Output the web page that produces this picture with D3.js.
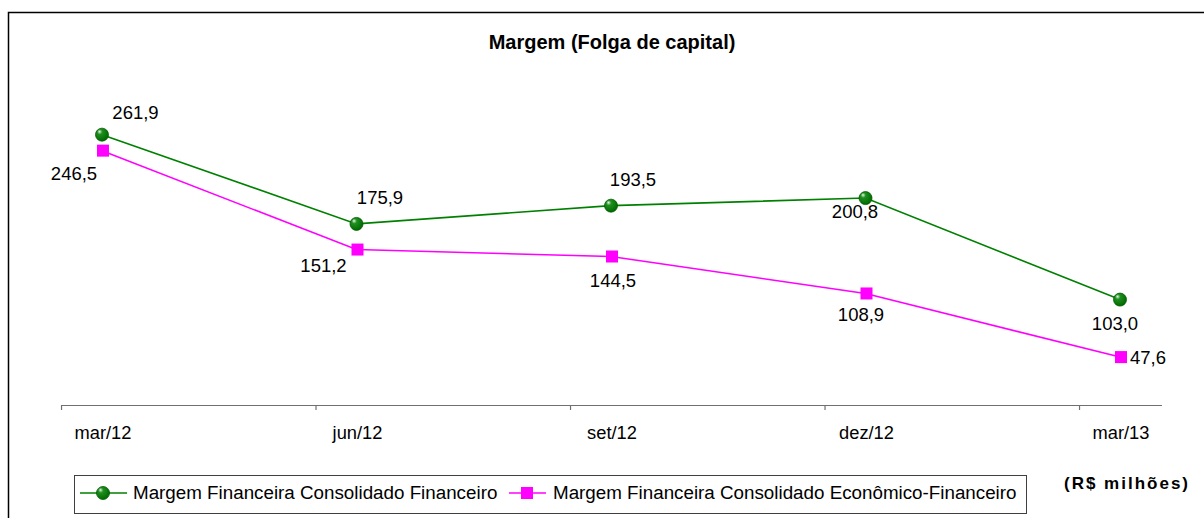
<!DOCTYPE html>
<html>
<head>
<meta charset="utf-8">
<script src="https://cdn.jsdelivr.net/npm/d3@7"></script>
<style>
  html, body { margin: 0; padding: 0; background: #fff; }
  svg { display: block; font-family: "Liberation Sans", Arial, sans-serif; }
</style>
</head>
<body>
<svg id="chart" width="1204" height="518"></svg>
<script>
// ---- data ----
const categories = ["mar/12", "jun/12", "set/12", "dez/12", "mar/13"];
const financeiro = [261.9, 175.9, 193.5, 200.8, 103.0];
const economicoFinanceiro = [246.5, 151.2, 144.5, 108.9, 47.6];
const seriesNames = [
  "Margem Financeira Consolidado Financeiro",
  "Margem Financeira Consolidado Econômico-Financeiro"
];
const title = "Margem (Folga de capital)";
const unitLabel = "(R$ milhões)";

// ---- label placement (layout only) ----
const greenLabelOffsets = [[33.5, -16], [23.5, -20], [22, -20], [-10.5, 20], [-5, 30]];
const pinkLabelOffsets = [[-28, 29], [-33, 22], [2, 30], [-4.5, 28], [28, 7]];

const fmt = v => d3.format(".1f")(v).replace(".", ",");

const svg = d3.select("#chart");
const GREEN = "#008000", PINK = "#FF00FF";

// frame
svg.append("rect").attr("x", 8.5).attr("y", 12.5).attr("width", 1300).attr("height", 600)
  .attr("fill", "#fff").attr("stroke", "#000").attr("stroke-width", 1.5);

// defs: sphere gradient for green markers
const defs = svg.append("defs");
const grad = defs.append("radialGradient").attr("id", "gball")
  .attr("cx", "40%").attr("cy", "35%").attr("r", "65%").attr("fx", "30%").attr("fy", "26%");
grad.append("stop").attr("offset", "0%").attr("stop-color", "#e6f5e6");
grad.append("stop").attr("offset", "30%").attr("stop-color", "#1f8f1f");
grad.append("stop").attr("offset", "100%").attr("stop-color", "#006a00");

// scales
const x = d3.scalePoint().domain(categories).range([102, 1120]);
const y = d3.scaleLinear().domain([0, 300]).range([406.5, 95.1]);
const step = x.step();
const tickShift = step * 0.161;
const axisY = 405;

// title
svg.append("text").attr("x", 612).attr("y", 49).attr("text-anchor", "middle")
  .attr("font-size", 20).attr("font-weight", "bold").text(title);

// category axis
const axisG = svg.append("g");
axisG.append("line")
  .attr("x1", x(categories[0]) - tickShift).attr("x2", x(categories[categories.length - 1]) + tickShift + 1)
  .attr("y1", axisY + 0.5).attr("y2", axisY + 0.5).attr("stroke", "#707070").attr("stroke-width", 1.2);
axisG.selectAll("line.tick").data(categories).join("line").attr("class", "tick")
  .attr("x1", d => x(d) - tickShift + 0.5).attr("x2", d => x(d) - tickShift + 0.5)
  .attr("y1", axisY).attr("y2", axisY + 5).attr("stroke", "#707070").attr("stroke-width", 1.2);
axisG.selectAll("text").data(categories).join("text")
  .attr("x", d => x(d) + 1).attr("y", 439).attr("text-anchor", "middle")
  .attr("font-size", 18.3).attr("fill", "#000").text(d => d);

// lines
const line = d3.line().x((d, i) => x(categories[i])).y(d => y(d));
svg.append("path").datum(financeiro).attr("d", line).attr("fill", "none")
  .attr("stroke", GREEN).attr("stroke-width", 1.6);
svg.append("path").datum(economicoFinanceiro).attr("d", line).attr("fill", "none")
  .attr("stroke", PINK).attr("stroke-width", 1.6);

// markers
function greenMarker(g, cx, cy) {
  g.append("circle").attr("cx", cx).attr("cy", cy).attr("r", 6.5)
    .attr("fill", "url(#gball)").attr("stroke", "#005a00").attr("stroke-width", 0.8);
}
function pinkMarker(g, cx, cy) {
  g.append("rect").attr("x", cx - 6).attr("y", cy - 6).attr("width", 12).attr("height", 12)
    .attr("fill", PINK);
}
const mk = svg.append("g");
financeiro.forEach((v, i) => greenMarker(mk, x(categories[i]), y(v)));
economicoFinanceiro.forEach((v, i) => pinkMarker(mk, x(categories[i]) + 1, y(v)));

// data labels
const lbl = svg.append("g").attr("font-size", 18.5).attr("text-anchor", "middle").attr("fill", "#000");
financeiro.forEach((v, i) => lbl.append("text")
  .attr("x", x(categories[i]) + greenLabelOffsets[i][0])
  .attr("y", y(v) + greenLabelOffsets[i][1]).text(fmt(v)));
economicoFinanceiro.forEach((v, i) => lbl.append("text")
  .attr("x", x(categories[i]) + pinkLabelOffsets[i][0])
  .attr("y", y(v) + pinkLabelOffsets[i][1]).text(fmt(v)));

// legend
const lg = svg.append("g");
lg.append("rect").attr("x", 74.5).attr("y", 475.5).attr("width", 952).attr("height", 38)
  .attr("fill", "#fff").attr("stroke", "#404040").attr("stroke-width", 1);
const ly = 493;
lg.append("line").attr("x1", 80).attr("x2", 127).attr("y1", ly).attr("y2", ly)
  .attr("stroke", GREEN).attr("stroke-width", 1.6);
greenMarker(lg, 103, ly);
lg.append("text").attr("x", 133).attr("y", 499).attr("font-size", 18.8).text(seriesNames[0]);
lg.append("line").attr("x1", 509).attr("x2", 546).attr("y1", ly).attr("y2", ly)
  .attr("stroke", PINK).attr("stroke-width", 1.6);
pinkMarker(lg, 527, ly);
lg.append("text").attr("x", 553).attr("y", 499).attr("font-size", 18.8).text(seriesNames[1]);

// unit label
svg.append("text").attr("x", 1064).attr("y", 489).attr("font-size", 17)
  .attr("font-weight", "bold").attr("letter-spacing", 2).text(unitLabel);
</script>
</body>
</html>
